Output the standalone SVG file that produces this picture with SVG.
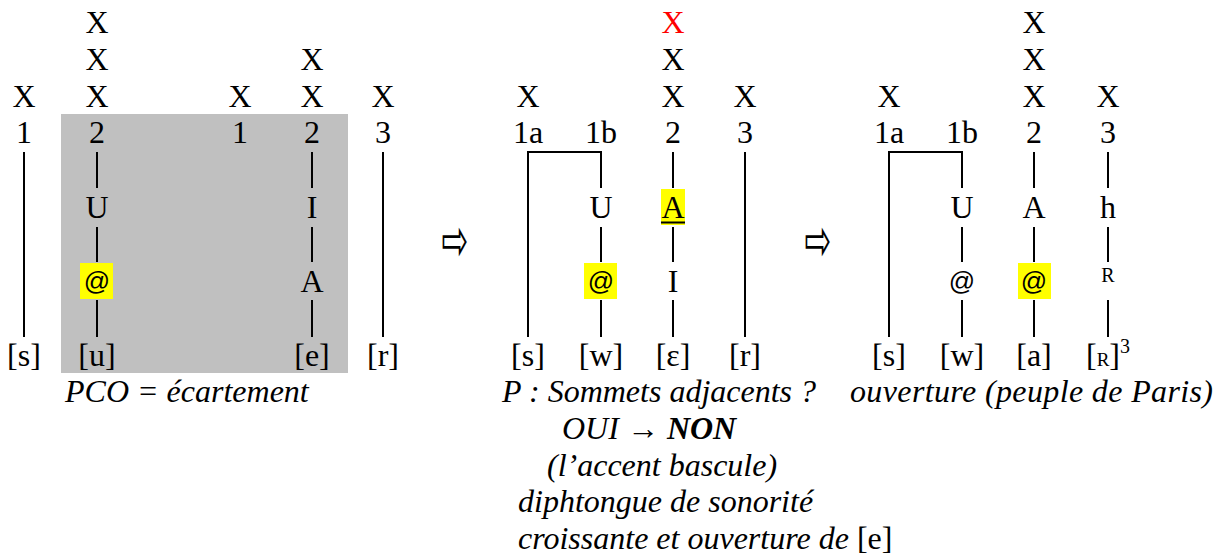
<svg xmlns="http://www.w3.org/2000/svg" width="1224" height="560" viewBox="0 0 1224 560">
<style>
text{font-family:"Liberation Serif","Times New Roman",serif;font-size:32px;fill:#000;text-anchor:middle}
.at{font-family:"Liberation Sans",Arial,sans-serif;font-size:26px}
.cap{font-style:italic;text-anchor:start}
.red{fill:#FF0000}
.arr{font-family:"DejaVu Sans",sans-serif;font-size:32px}
.small{font-size:20px}
.hl{fill:#FFFF00}
.ln{stroke:#000;stroke-width:2;fill:none}
</style>
<rect id="shade" x="61" y="114" width="287" height="259" fill="#C0C0C0"/>

<g id="panel1">
  <g id="p1c1"><text x="24" y="107">X</text><text x="24" y="143">1</text><text x="24" y="366">[s]</text></g>
  <g id="p1c2"><text x="97" y="33">X</text><text x="97" y="70">X</text><text x="97" y="107">X</text><text x="97" y="143">2</text><text x="97" y="218">U</text><rect class="hl" x="80" y="263" width="33" height="36"/><text class="at" x="97" y="290">@</text><text x="97" y="366">[u]</text></g>
  <g id="p1c3"><text x="240" y="107">X</text><text x="240" y="143">1</text></g>
  <g id="p1c4"><text x="312" y="70">X</text><text x="312" y="107">X</text><text x="312" y="143">2</text><text x="312" y="218">I</text><text x="312" y="292">A</text><text x="312" y="366">[e]</text></g>
  <g id="p1c5"><text x="383" y="107">X</text><text x="383" y="143">3</text><text x="383" y="366">[r]</text></g>
  <text id="cap1" class="cap" x="65" y="402">PCO = écartement</text>
</g>

<g id="arrow1"><text class="arr" transform="translate(455,246) scale(1,1.8)" x="0" y="8">⇨</text></g>

<g id="panel2">
  <g id="p2c1"><text x="528" y="107">X</text><text x="528" y="143">1a</text><text x="528" y="366">[s]</text></g>
  <g id="p2c2"><text x="601" y="143">1b</text><text x="601" y="218">U</text><rect class="hl" x="584" y="263" width="33" height="36"/><text class="at" x="601" y="290">@</text><text x="601" y="366">[w]</text></g>
  <g id="p2c3"><text class="red" x="673" y="33">X</text><text x="673" y="70">X</text><text x="673" y="107">X</text><text x="673" y="143">2</text><rect class="hl" x="661" y="189" width="24" height="36"/><text x="673" y="218">A</text><rect x="661" y="221.5" width="24" height="2" fill="#000"/><text x="673" y="292">I</text><text x="673" y="366">[ɛ]</text></g>
  <g id="p2c4"><text x="745" y="107">X</text><text x="745" y="143">3</text><text x="745" y="366">[r]</text></g>
  <g id="cap2">
    <text class="cap" x="502" y="402">P : Sommets adjacents ?</text>
    <text class="cap" x="562" y="439">OUI → <tspan font-weight="bold">NON</tspan></text>
    <text class="cap" x="547" y="476">(l’accent bascule)</text>
    <text class="cap" x="518" y="512">diphtongue de sonorité</text>
    <text class="cap" x="518" y="549">croissante et ouverture de <tspan font-style="normal">[e]</tspan></text>
  </g>
</g>

<g id="arrow2"><text class="arr" transform="translate(818,246) scale(1,1.8)" x="0" y="8">⇨</text></g>

<g id="panel3">
  <g id="p3c1"><text x="889" y="107">X</text><text x="889" y="143">1a</text><text x="889" y="366">[s]</text></g>
  <g id="p3c2"><text x="962" y="143">1b</text><text x="962" y="218">U</text><text class="at" x="962" y="290">@</text><text x="962" y="366">[w]</text></g>
  <g id="p3c3"><text x="1034" y="33">X</text><text x="1034" y="70">X</text><text x="1034" y="107">X</text><text x="1034" y="143">2</text><text x="1034" y="218">A</text><rect class="hl" x="1018" y="263" width="33" height="36"/><text class="at" x="1034" y="290">@</text><text x="1034" y="366">[a]</text></g>
  <g id="p3c4"><text x="1108" y="107">X</text><text x="1108" y="143">3</text><text x="1108" y="218">h</text><text class="small" x="1108" y="282">R</text><text x="1108" y="366">[<tspan font-size="19">R</tspan>]<tspan font-size="20" dy="-13">3</tspan></text></g>
  <text id="cap3" class="cap" x="850" y="402" textLength="363" lengthAdjust="spacing">ouverture (peuple de Paris)</text>
</g>

<g id="connectors" class="ln">
  <line x1="24" y1="152" x2="24" y2="337"/>
  <line x1="97" y1="152" x2="97" y2="188"/><line x1="97" y1="227" x2="97" y2="262"/><line x1="97" y1="300" x2="97" y2="337"/>
  <line x1="312" y1="152" x2="312" y2="188"/><line x1="312" y1="227" x2="312" y2="262"/><line x1="312" y1="300" x2="312" y2="337"/>
  <line x1="383" y1="152" x2="383" y2="337"/>
  <path d="M528,337 V152 H601 V188"/>
  <line x1="601" y1="227" x2="601" y2="262"/><line x1="601" y1="300" x2="601" y2="337"/>
  <line x1="673" y1="152" x2="673" y2="188"/><line x1="673" y1="227" x2="673" y2="262"/><line x1="673" y1="300" x2="673" y2="337"/>
  <line x1="745" y1="152" x2="745" y2="337"/>
  <path d="M889,337 V152 H962 V188"/>
  <line x1="962" y1="227" x2="962" y2="262"/><line x1="962" y1="300" x2="962" y2="337"/>
  <line x1="1034" y1="152" x2="1034" y2="188"/><line x1="1034" y1="227" x2="1034" y2="262"/><line x1="1034" y1="300" x2="1034" y2="337"/>
  <line x1="1108" y1="152" x2="1108" y2="188"/><line x1="1108" y1="227" x2="1108" y2="262"/><line x1="1108" y1="300" x2="1108" y2="337"/>
</g>
</svg>
